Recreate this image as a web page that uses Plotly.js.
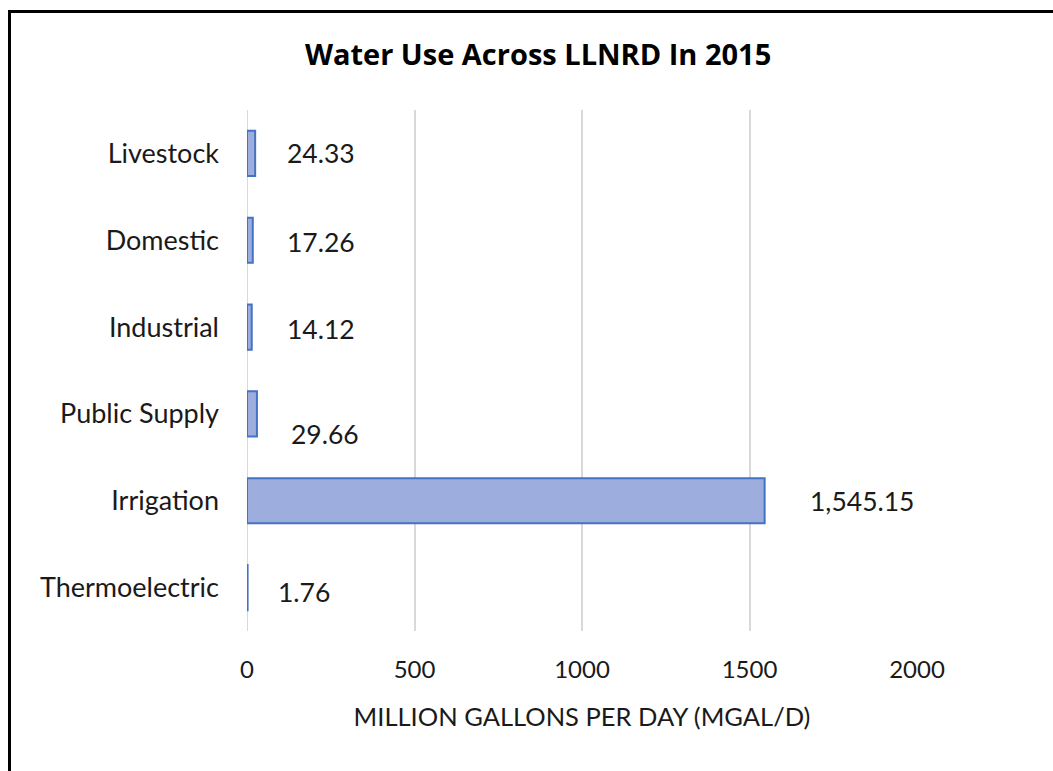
<!DOCTYPE html>
<html>
<head>
<meta charset="utf-8">
<script src="https://cdn.plot.ly/plotly-3.0.1.min.js"></script>
<style>
  html, body { margin: 0; padding: 0; background: #fff; overflow: hidden; }
  #chart { position: absolute; left: 0; top: 0; width: 1053px; height: 771px; }
  #frame { position: absolute; left: 8px; top: 10px; width: 1100px; height: 800px;
           border: 3px solid #000; box-sizing: border-box; pointer-events: none; }
</style>
</head>
<body>
<div id="chart"></div>
<div id="frame"></div>
<script>
// Data (top to bottom as shown)
const categories = ["Livestock", "Domestic", "Industrial", "Public Supply", "Irrigation", "Thermoelectric"];
const values = [24.33, 17.26, 14.12, 29.66, 1545.15, 1.76];
const valueLabels = ["24.33", "17.26", "14.12", "29.66", "1,545.15", "1.76"];
const xTicks = [0, 500, 1000, 1500, 2000];

// Label nudges (pixels) — style only
const labelShiftX = [30, 32, 33, 32, 43, 28];
const labelShiftY = [0, -2, -2, -20, 0, -4];

const font = "Lato, 'Open Sans', sans-serif";
const textColor = "#1a1a1a";

const trace = {
  type: "bar",
  orientation: "h",
  x: values,
  y: categories,
  width: 0.52,
  marker: { color: "#9cadde", line: { color: "#4472c4", width: 2 } },
  hoverinfo: "x+y"
};

const annotations = categories.map((c, i) => ({
  x: values[i], y: c, xref: "x", yref: "y",
  text: valueLabels[i], showarrow: false,
  xanchor: "left", yanchor: "middle",
  xshift: labelShiftX[i], yshift: labelShiftY[i],
  font: { family: font, size: 26.5, color: textColor }
}));

const layout = {
  width: 1053, height: 771,
  paper_bgcolor: "#fff", plot_bgcolor: "#fff",
  margin: { l: 247, r: 136, t: 110, b: 140 },
  showlegend: false,
  title: { text: "<b>Water Use Across LLNRD In 2015</b>", x: 0.511, xanchor: "center",
           y: 0.929, yanchor: "middle",
           font: { family: "'Open Sans', sans-serif", size: 29, color: "#000" } },
  xaxis: {
    range: [0, 2000], tickvals: xTicks, ticktext: xTicks.map(String),
    showgrid: true, gridcolor: "#d9d9d9", gridwidth: 2,
    zeroline: false, showline: false, ticks: "",
    tickfont: { family: font, size: 24, color: textColor },
    ticklabelstandoff: 22,
    title: { text: "MILLION GALLONS PER DAY (MGAL/D)", standoff: 26,
             font: { family: font, size: 25.5, color: textColor } }
  },
  yaxis: {
    type: "category", autorange: "reversed",
    showgrid: false, zeroline: false, showline: false, ticks: "",
    tickfont: { family: font, size: 27, color: textColor },
    ticklabelstandoff: 27
  },
  shapes: [{ type: "line", xref: "x", yref: "paper", x0: 0, x1: 0, y0: 0, y1: 1,
             line: { color: "#d9d9d9", width: 2 }, layer: "below" }],
  annotations: annotations
};

Plotly.newPlot("chart", [trace], layout, { displayModeBar: false, staticPlot: true });
</script>
</body>
</html>
